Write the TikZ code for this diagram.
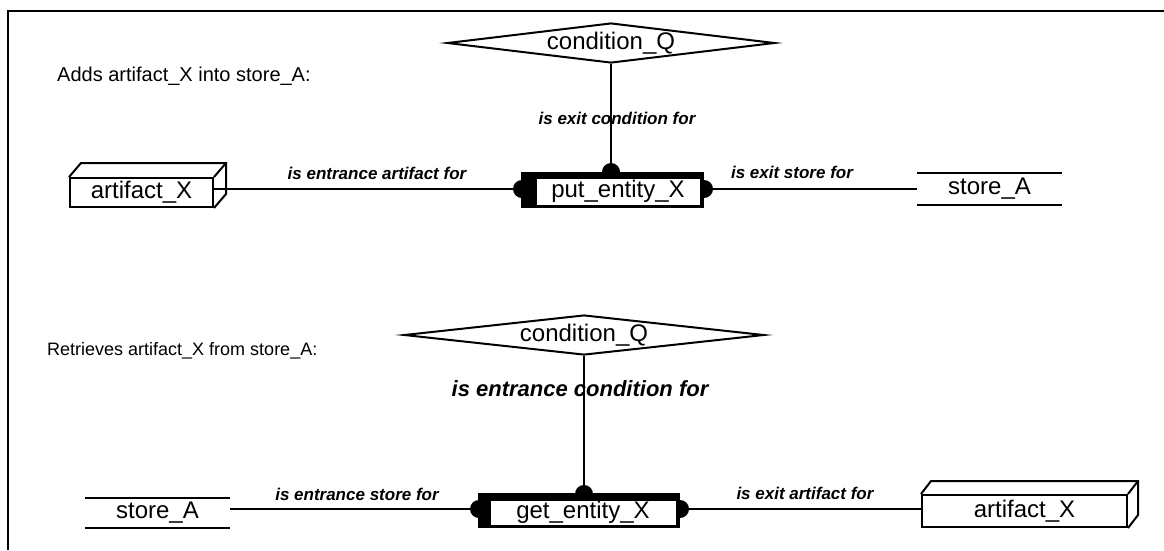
\documentclass[tikz,border=0pt]{standalone}
\usepackage{fontspec}
\setmainfont{Liberation Sans}
\usetikzlibrary{shapes.geometric,calc}
\begin{document}
\begin{tikzpicture}[x=1pt,y=-1pt,
  ln/.style={line width=2pt},
  nodetxt/.style={font=\fontsize{24}{28}\selectfont},
  elabel/.style={font=\fontsize{17}{20}\selectfont\bfseries\itshape, inner sep=0},
  caption/.style={anchor=west, inner sep=0},
  cond/.style={diamond, draw, line width=2pt, aspect=9, inner sep=0, minimum height=40pt, nodetxt},
  artbox/.style={draw, line width=2pt, inner sep=0, nodetxt},
  storebox/.style={inner sep=0, nodetxt},
  dotn/.style={circle, fill=black, inner sep=0, minimum size=18pt},
  outerframe/.style={fill=black, inner sep=0},
  entitybox/.style={draw, fill=white, line width=1pt, inner sep=0, nodetxt}]
\useasboundingbox (0,0) rectangle (1164,550);
\coordinate (fa) at (8,550);
\coordinate (fb) at (8,11);
\coordinate (fc) at (1164,11);
\draw[line width=2.5pt] (fa) -- (fb) -- (fc);

% ---------- upper diagram ----------
\node[caption, font=\fontsize{20}{22}\selectfont] (cap1) at (57,76) {Adds artifact\_X into store\_A:};
\node[cond, minimum width=315pt] (cond1) at (611,43) {condition\_Q};
\node[artbox, minimum width=143pt, minimum height=29pt] (art1) at (141.5,192.5) {artifact\_X};
\draw[ln] (art1.north west) -- ++(12,-14) -| ($(art1.south east)+(12,-14)$) -- (art1.south east);
\draw[ln] (art1.north east) -- ++(12,-14);
\node[dotn] (d1L) at (522,189) {};
\node[dotn] (d1T) at (611,172) {};
\node[dotn] (d1R) at (704,189) {};
\node[outerframe, minimum width=183pt, minimum height=36pt] (putf) at (612.5,190) {};
\node[entitybox, minimum width=164pt, minimum height=27pt] (put) at (618,191.5) {put\_entity\_X};
\node[storebox, minimum width=145pt, minimum height=32pt] (store1) at (989.5,189) {store\_A};
\draw[ln] (store1.north west) -- (store1.north east);
\draw[ln] (store1.south west) -- (store1.south east);
\draw[ln] (art1.east |- d1L) -- (d1L);
\draw[ln] (d1R) -- (store1.west |- d1R);
\draw[ln] (cond1.south) -- (d1T);
\node[elabel] (l1) at (377,173) {is entrance artifact for};
\node[elabel] (l2) at (792,172) {is exit store for};
\node[elabel] (l3) at (617,118) {is exit condition for};

% ---------- lower diagram ----------
\node[caption, font=\fontsize{18}{22}\selectfont] (cap2) at (47,351) {Retrieves artifact\_X from store\_A:};
\node[cond, minimum width=360pt] (cond2) at (584,335) {condition\_Q};
\node[storebox, minimum width=145pt, minimum height=30pt] (store2) at (157.5,513) {store\_A};
\draw[ln] (store2.north west) -- (store2.north east);
\draw[ln] (store2.south west) -- (store2.south east);
\node[dotn] (d2L) at (479,509) {};
\node[dotn] (d2T) at (584,494) {};
\node[dotn] (d2R) at (680,509) {};
\node[outerframe, minimum width=202pt, minimum height=35pt] (getf) at (579,510.5) {};
\node[entitybox, minimum width=186pt, minimum height=25pt] (get) at (583,512.5) {get\_entity\_X};
\node[artbox, minimum width=205pt, minimum height=32pt] (art2) at (1024.5,511) {artifact\_X};
\draw[ln] (art2.north west) -- ++(10,-13) -| ($(art2.south east)+(10,-13)$) -- (art2.south east);
\draw[ln] (art2.north east) -- ++(10,-13);
\draw[ln] (store2.east |- d2L) -- (d2L);
\draw[ln] (d2R) -- (art2.west |- d2R);
\draw[ln] (cond2.south) -- (d2T);
\node[elabel] (l4) at (357,494) {is entrance store for};
\node[elabel] (l5) at (805,493) {is exit artifact for};
\node[elabel, font=\fontsize{22}{26}\selectfont\bfseries\itshape] (l6) at (580,389) {is entrance condition for};
\end{tikzpicture}
\end{document}
